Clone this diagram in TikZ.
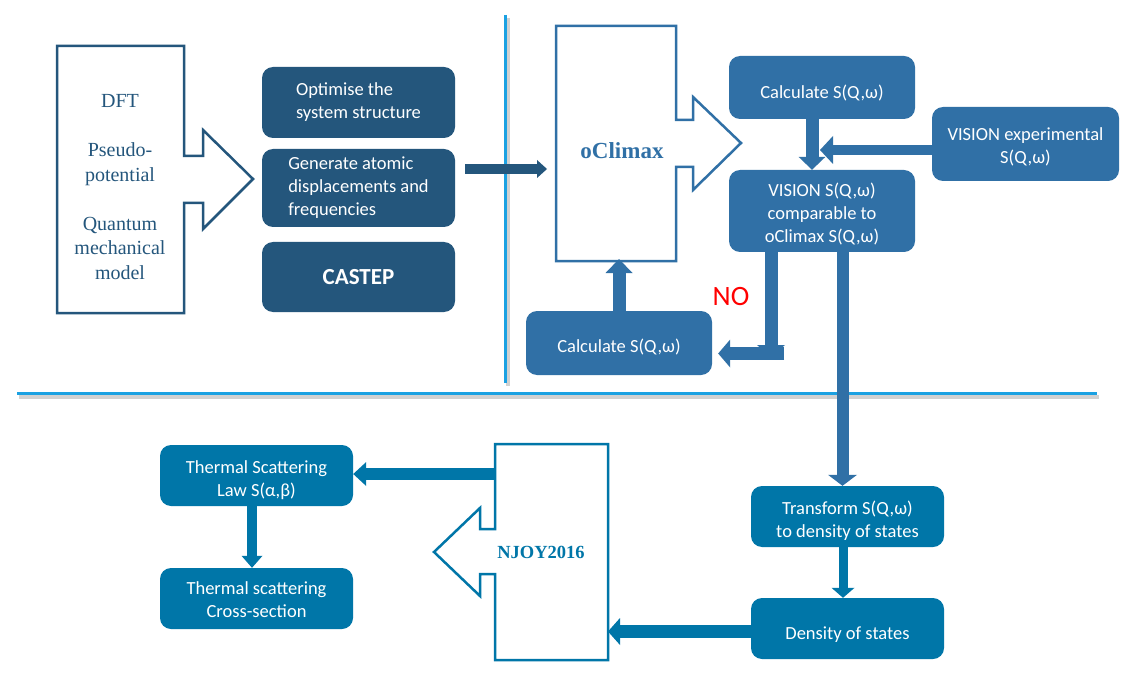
\documentclass[tikz,border=0pt]{standalone}
\usepackage{fontspec}
\setmainfont{Liberation Serif}
\newfontfamily\carl{Carlito}
\usetikzlibrary{arrows.meta,calc}
\definecolor{navy}{HTML}{24567C}
\definecolor{mblue}{HTML}{3070A6}
\definecolor{tealb}{HTML}{0076A8}
\definecolor{sepc}{HTML}{1BA1E2}
\definecolor{noRed}{HTML}{FF0000}
\newcommand\topgap[1]{\rule{0pt}{#1}}
\tikzset{
  fat/.style n args={3}{line width=#1, line cap=butt, -{Triangle[width=#2,length=#3,line width=0pt]}},
  box/.style={rounded corners=11pt, inner sep=0pt, align=center, text=white,
    font=\carl\fontsize{18.5}{23}\selectfont},
  navybox/.style={box, fill=navy},
  bluebox/.style={box, fill=mblue},
  tealbox/.style={box, fill=tealb},
  shapeline/.style={line width=2.5pt, fill=white, line join=miter},
  sertext/.style={align=center, inner sep=0pt, font=\fontsize{20}{24.5}\selectfont},
  sepline/.style={sepc, line width=3.5pt},
  sepshadow/.style={black, opacity=0.18, line width=4pt},
}
\begin{document}
\begin{tikzpicture}[x=1pt,y=-1pt]
\useasboundingbox[fill=white] (0,0) rectangle (1126,676);

% separators
\draw[sepshadow] (507.5,18) -- (507.5,386);
\draw[sepshadow] (19,397) -- (1099,397);
\draw[sepline] (505.5,15) -- (505.5,383);
\draw[sepline] (17,393.5) -- (1097,393.5);

% DFT block arrow
\draw[shapeline, draw=navy] (57,46) -- (184,46) -- (184,156) -- (203,156) -- (203,130)
  -- (253,179) -- (203,229) -- (203,203) -- (184,203) -- (184,313) -- (57,313) -- cycle;
\node[sertext, text=navy] (dft1) at (120,101) {DFT};
\node[sertext, text=navy] (dft2) at (120,164) {Pseudo-\\potential};
\node[sertext, text=navy] (dft3) at (120,248) {Quantum\\mechanical\\model};

% CASTEP boxes
\node[navybox, minimum width=193pt, minimum height=71pt] (opt) at (358.5,102.5)
  {\begin{tabular}{@{}l@{}}Optimise the\\system structure\end{tabular}};
\node[navybox, minimum width=193pt, minimum height=78pt] (gen) at (358.5,188)
  {\begin{tabular}{@{}l@{}}Generate atomic\\displacements and\\frequencies\end{tabular}};
\node[navybox, minimum width=193pt, minimum height=70pt, font=\carl\bfseries\fontsize{23}{27}\selectfont] (castep) at (358.5,277) {CASTEP};

% oClimax block arrow
\draw[shapeline, draw=mblue] (556,26) -- (676,26) -- (676,120) -- (693,120) -- (693,97)
  -- (741,143) -- (693,190) -- (693,167) -- (676,167) -- (676,261) -- (556,261) -- cycle;
\node[inner sep=0pt, text=mblue, font=\bfseries\fontsize{23}{27}\selectfont] (oclimax) at (622,151) {oClimax};
\coordinate (oclw) at (556,169);

% right top boxes
\node[bluebox, minimum width=186pt, minimum height=63pt] (calc1) at (822,87.5) {\topgap{24pt}Calculate S(Q,ω)};
\node[bluebox, minimum width=187pt, minimum height=74pt] (visexp) at (1025.5,144) {\topgap{18pt}VISION experimental\\S(Q,ω)};
\node[bluebox, minimum width=186pt, minimum height=82pt] (vcomp) at (822,211) {\topgap{19pt}VISION S(Q,ω)\\comparable to\\oClimax S(Q,ω)};
\node[bluebox, minimum width=186pt, minimum height=64pt] (calc2) at (619,343) {\topgap{22pt}Calculate S(Q,ω)};
\node[inner sep=0pt, text=noRed, font=\carl\fontsize{28}{30}\selectfont] (no) at (731,297) {NO};

% bottom boxes
\node[tealbox, minimum width=193pt, minimum height=61pt] (transf) at (847.5,516.5) {\topgap{21pt}Transform S(Q,ω)\\to density of states};
\node[tealbox, minimum width=193pt, minimum height=61pt] (dos) at (847.5,628.5) {\topgap{25pt}Density of states};
\node[tealbox, minimum width=193pt, minimum height=61pt] (tsl) at (256.5,475.5) {\topgap{23pt}Thermal Scattering\\Law S(α,β)};
\node[tealbox, minimum width=193pt, minimum height=61pt] (tsx) at (256.5,598.5) {\topgap{16pt}Thermal scattering\\Cross-section};

% NJOY block arrow
\draw[shapeline, draw=tealb] (495,444) -- (608,444) -- (608,660) -- (495,660) -- (495,574)
  -- (480,574) -- (480,596) -- (434,552) -- (480,508) -- (480,529) -- (495,529) -- cycle;
\node[inner sep=0pt, text=tealb, font=\bfseries\fontsize{18.5}{22}\selectfont] (njoy) at (541,552) {NJOY2016};
\coordinate (njoyw) at (495,474);
\coordinate (njoye) at (608,631.5);

% connectors
\draw[fat={10pt}{18pt}{10pt}, navy] ([xshift=10pt]gen.east |- 0,169) -- ([xshift=-9pt]oclw);
\draw[fat={13pt}{27pt}{13pt}, mblue] (calc1.south -| 812,0) -- (vcomp.north -| 812,0);
\draw[fat={10pt}{28pt}{13pt}, mblue] (visexp.west |- 0,150) -- (820,150);
\draw[fat={13pt}{28pt}{12pt}, mblue] (vcomp.south -| 771,0) -- (771,357);
\draw[fat={13pt}{28pt}{12pt}, mblue] (784,353.5) -- ([xshift=6pt]calc2.east |- 0,353.5);
\draw[fat={13pt}{27pt}{14pt}, mblue] (calc2.north) -- (619,259);
\draw[fat={12pt}{29pt}{11pt}, mblue] (vcomp.south -| 842.5,0) -- (transf.north -| 842.5,0);
\draw[fat={9pt}{23pt}{10pt}, tealb] (transf.south -| 843,0) -- (dos.north -| 843,0);
\draw[fat={13pt}{27pt}{12pt}, tealb] (dos.west |- 0,631.5) -- (njoye);
\draw[fat={12pt}{24pt}{13pt}, tealb] (njoyw) -- (tsl.east |- 0,474);
\draw[fat={10pt}{21pt}{12pt}, tealb] (tsl.south -| 252,0) -- (tsx.north -| 252,0);
\end{tikzpicture}
\end{document}
